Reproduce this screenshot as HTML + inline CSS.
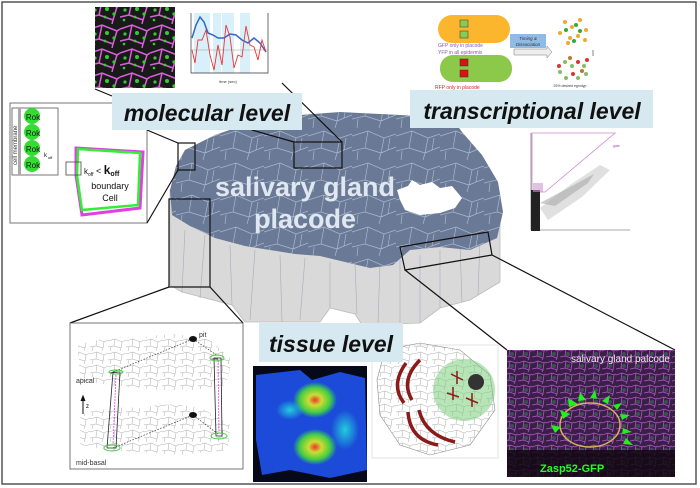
<!DOCTYPE html>
<html><head><meta charset="utf-8"><style>
html,body{margin:0;padding:0;background:#fff}
svg{display:block}
text{font-family:"Liberation Sans",sans-serif}
</style></head><body>
<svg width="700" height="488" viewBox="0 0 700 488" xmlns="http://www.w3.org/2000/svg">
<defs>
<pattern id="mesh" width="44" height="32" patternUnits="userSpaceOnUse">
<path d="M0 8 L16 3 L32 10 L44 6 M16 3 L13 20 L0 23 M13 20 L29 25 L32 10 M29 25 L27 32 M6 23 L5 32 M36 22 L44 19 M29 25 L36 22 L44 19 M36 22 L38 10" stroke="#a9b8cc" stroke-width="0.7" fill="none"/>
</pattern>
<pattern id="gmesh" width="18" height="13" patternUnits="userSpaceOnUse">
<path d="M0 3 L7 1 L14 4 L18 2 M7 1 L6 8 L0 9 M6 8 L13 10 L14 4 M13 10 L12 13 M3 9 L2 13" stroke="#aaa" stroke-width="0.5" fill="none"/>
</pattern>
<pattern id="micro" width="30" height="24" patternUnits="userSpaceOnUse">
<rect width="30" height="24" fill="#1a1a1a"/>
<path d="M0 5 L12 1 L27 7 L30 5 M12 1 L9 15 L0 17 M9 15 L23 20 L27 7 M23 20 L22 24" stroke="#d860d8" stroke-width="1.5" fill="none"/>
<circle cx="5" cy="10" r="1.6" fill="#3c3"/><circle cx="17" cy="9" r="2" fill="#3c3"/><circle cx="15" cy="17" r="1.4" fill="#3c3"/><circle cx="24" cy="14" r="1.6" fill="#3c3"/><circle cx="4" cy="20" r="1.3" fill="#3c3"/>
</pattern>
<pattern id="zmesh" width="14" height="12" patternUnits="userSpaceOnUse">
<rect width="14" height="12" fill="#3a2046"/>
<path d="M0 3 L6 1 L12 3 L14 2 M6 1 L5 8 L0 9 M5 8 L11 10 L12 3 M11 10 L10 12" stroke="#b055c8" stroke-width="0.8" fill="none"/>
<circle cx="8" cy="6" r="2" fill="#3b5050"/>
</pattern>
<radialGradient id="hot" cx="0.5" cy="0.5" r="0.5"><stop offset="0" stop-color="#e33"/><stop offset="0.3" stop-color="#cd3"/><stop offset="0.7" stop-color="#4c4"/><stop offset="1" stop-color="#3c6" stop-opacity="0"/></radialGradient>
<radialGradient id="cyan" cx="0.5" cy="0.5" r="0.5"><stop offset="0" stop-color="#2cd" /><stop offset="1" stop-color="#2cd" stop-opacity="0"/></radialGradient>
</defs>
<rect x="2" y="2" width="694" height="482" fill="#fff" stroke="#555" stroke-width="1.5"/>

<!-- placode side -->
<path d="M170 190 L500 210 L500 282 L470 300 L440 308 L420 323 L362 325 L355 314 L330 308 L320 322 L245 322 L232 305 L182 292 L170 285 Z" fill="#d9d9d9" stroke="#bbb" stroke-width="0.8"/>
<g stroke="#aab" stroke-width="0.6">
<path d="M185 230 L182 292 M205 235 L200 298 M230 245 L232 305 M255 250 L250 320 M280 255 L282 322 M305 258 L300 320 M330 262 L330 308 M355 265 L357 314 M380 262 L378 324 M400 258 L400 324 M420 255 L420 323 M440 250 L440 308 M460 245 L462 302 M480 240 L478 295"/>
</g>
<!-- placode top -->
<path id="top" d="M176 166 L185 150 L215 135 L250 123 L300 115 L340 112 L400 115 L452 118 L462 132 L482 155 L498 182 L503 212 L497 238 L470 250 L440 247 L410 250 L393 265 L370 268 L345 262 L320 256 L295 254 L270 250 L245 246 L215 238 L190 226 L172 215 L170 190 Z" fill="#6a7995"/>
<path d="M176 166 L185 150 L215 135 L250 123 L300 115 L340 112 L400 115 L452 118 L462 132 L482 155 L498 182 L503 212 L497 238 L470 250 L440 247 L410 250 L393 265 L370 268 L345 262 L320 256 L295 254 L270 250 L245 246 L215 238 L190 226 L172 215 L170 190 Z" fill="url(#mesh)"/>
<path d="M397 190 L408 186 L412 180 L420 185 L432 182 L440 188 L452 186 L462 198 L455 208 L440 213 L420 215 L405 210 L400 200 Z" fill="#fff"/>
<text x="305" y="196" font-size="27" font-weight="bold" fill="#dfe8f0" text-anchor="middle">salivary gland</text>
<text x="305" y="228" font-size="27" font-weight="bold" fill="#dfe8f0" text-anchor="middle">placode</text>

<!-- Rok box -->
<rect x="10" y="103" width="137" height="120" fill="#fff" stroke="#555" stroke-width="0.8"/>
<rect x="12" y="108" width="46" height="67" fill="#fff" stroke="#555" stroke-width="0.8"/>
<rect x="18" y="108" width="3" height="67" fill="#aaa"/>
<text transform="translate(17,165) rotate(-90)" font-size="6" fill="#333">cell membrane</text>
<g font-size="8" text-anchor="middle" fill="#111">
<circle cx="32" cy="116" r="8" fill="#3d3"/><text x="33" y="120">Rok</text>
<circle cx="32" cy="132" r="8" fill="#3d3"/><text x="33" y="136">Rok</text>
<circle cx="32" cy="148" r="8" fill="#3d3"/><text x="33" y="152">Rok</text>
<circle cx="32" cy="164" r="8" fill="#3d3"/><text x="33" y="168">Rok</text>
</g>
<text x="44" y="157" font-size="6" fill="#111">k</text><text x="48" y="159" font-size="4">off</text>
<path d="M76 148 L143 152 L140 208 L82 215 L76 175 Z" fill="#fff" stroke="#e040e0" stroke-width="3"/>
<path d="M78 149 L140 153 L138 205 L82 210 L77 175 Z" fill="none" stroke="#3e3" stroke-width="2.5"/>
<rect x="66" y="162" width="15" height="13" fill="none" stroke="#444" stroke-width="0.8"/>
<text x="84" y="174" font-size="8" fill="#111">k<tspan font-size="5" dy="2">off</tspan><tspan dy="-2" font-size="9"> &lt; </tspan><tspan font-weight="bold" font-size="12">k</tspan><tspan font-weight="bold" font-size="7" dy="2">off</tspan></text>
<text x="110" y="189" font-size="9" fill="#111" text-anchor="middle">boundary</text>
<text x="110" y="201" font-size="9" fill="#111" text-anchor="middle">Cell</text>

<!-- micrograph -->
<rect x="95" y="7" width="80" height="81" fill="url(#micro)"/>
<!-- chart -->
<rect x="194" y="13" width="16" height="60" fill="#d8f0fa"/><rect x="213" y="13" width="8" height="60" fill="#d8f0fa"/><rect x="222" y="13" width="12" height="60" fill="#d8f0fa"/><rect x="240" y="13" width="10" height="60" fill="#d8f0fa"/>
<path d="M191 13 V73 H268 V13" fill="none" stroke="#333" stroke-width="0.7"/>
<line x1="191" y1="50" x2="268" y2="50" stroke="#999" stroke-width="0.5"/>
<polyline points="192,38 196,25 200,17 204,22 208,33 213,35 218,38 224,38 230,34 236,35 242,40 248,43 254,38 260,43 266,52" fill="none" stroke="#36c" stroke-width="1.5"/>
<polyline points="192,50 195,63 198,40 202,40 206,30 210,55 214,70 218,45 222,65 226,25 230,37 234,68 238,55 242,57 246,26 250,45 254,47 258,60 262,40 266,52" fill="none" stroke="#e33" stroke-width="0.9"/>
<text x="228" y="83" font-size="4" fill="#333" text-anchor="middle">time (sec)</text>

<!-- zoom boxes and connectors -->
<g fill="none" stroke="#111" stroke-width="1.2">
<rect x="178" y="143" width="17" height="27"/>
<rect x="294" y="142" width="48" height="26"/>
<rect x="169" y="199" width="41" height="88"/>
<path d="M400 247 L488 232 L492 255 L405 270 Z"/>
<path d="M282 83 L342 142 M252 130 L294 142 M147 130 L178 143 M147 223 L178 170 M95 89 L112 96"/>
<path d="M169 287 L70 323 M210 287 L243 323 M405 270 L507 350 M492 255 L675 350"/>
</g>

<rect x="112" y="93" width="190" height="37" fill="#d6e9f1"/>
<text x="207" y="121" font-size="23" font-weight="bold" font-style="italic" fill="#111" text-anchor="middle">molecular level</text>

<!-- transcriptional graphic -->
<rect x="438" y="15" width="72" height="28" rx="14" fill="#fbb62e"/>
<rect x="460" y="20" width="8" height="7" fill="#8c5" stroke="#333" stroke-width="0.5"/><rect x="460" y="31" width="8" height="7" fill="#8c5" stroke="#333" stroke-width="0.5"/>
<text x="438" y="47" font-size="5" fill="#8a5ab8">GFP only in placode</text>
<text x="438" y="54" font-size="5" fill="#8a5ab8">YFP in all epidermis</text>
<rect x="440" y="55" width="72" height="27" rx="13" fill="#8cc84a"/>
<rect x="460" y="59" width="8" height="7" fill="#d11" stroke="#333" stroke-width="0.5"/><rect x="460" y="70" width="8" height="7" fill="#d11" stroke="#333" stroke-width="0.5"/>
<text x="435" y="89" font-size="5" fill="#d22">RFP only in placode</text>
<rect x="510" y="34" width="36" height="14" fill="#8fbce6"/>
<text x="528" y="40" font-size="4.5" font-style="italic" fill="#333" text-anchor="middle">Timing &amp;</text>
<text x="528" y="46" font-size="4.5" font-style="italic" fill="#333" text-anchor="middle">Dissociation</text>
<path d="M514 49 H547 V46 L552 52 L547 58 V55 H514 Z" fill="#eee" stroke="#777" stroke-width="0.5"/>
<g fill="#f0a830"><circle cx="565" cy="22" r="2"/><circle cx="572" cy="27" r="2"/><circle cx="580" cy="20" r="2"/><circle cx="586" cy="30" r="2"/><circle cx="560" cy="33" r="2"/><circle cx="570" cy="38" r="2"/><circle cx="585" cy="40" r="2"/><circle cx="578" cy="36" r="2"/><circle cx="568" cy="43" r="2"/></g>
<g fill="#3a3"><circle cx="576" cy="25" r="2"/><circle cx="566" cy="30" r="2"/><circle cx="580" cy="31" r="2"/><circle cx="574" cy="41" r="2"/></g>
<g fill="#8b6"><circle cx="565" cy="62" r="2"/><circle cx="572" cy="66" r="2"/><circle cx="584" cy="66" r="2"/><circle cx="560" cy="72" r="2"/><circle cx="578" cy="78" r="2"/><circle cx="586" cy="74" r="2"/><circle cx="566" cy="78" r="2"/></g>
<g fill="#d33"><circle cx="578" cy="62" r="2"/><circle cx="559" cy="66" r="2"/><circle cx="573" cy="74" r="2"/><circle cx="587" cy="60" r="2"/></g>
<g fill="#b73"><circle cx="570" cy="58" r="2"/><circle cx="582" cy="71" r="2"/></g>
<line x1="593" y1="50" x2="593" y2="56" stroke="#333" stroke-width="0.6"/>
<text x="570" y="87" font-size="3.5" fill="#333" text-anchor="middle">25% desired egnotyp</text>

<rect x="410" y="90" width="243" height="38" fill="#d6e9f1"/>
<text x="532" y="119" font-size="23" font-weight="bold" font-style="italic" fill="#111" text-anchor="middle">transcriptional level</text>

<!-- scatter -->
<path d="M531 133 V230 H630" fill="none" stroke="#555" stroke-width="0.6"/>
<path d="M532 133 L615 133 L545 192 L532 192 Z" fill="none" stroke="#c8c" stroke-width="0.8"/>
<text x="613" y="147" font-size="3.5" fill="#a4a">gate</text>
<path d="M540 208 L570 185 L600 165 L610 170 L582 197 L548 220 Z" fill="#ccc" opacity="0.6"/>
<path d="M540 203 L572 186 L594 174 L588 183 L555 206 Z" fill="#aaa" opacity="0.6"/>
<rect x="531" y="190" width="9" height="41" fill="#222"/>
<rect x="533" y="183" width="10" height="9" fill="#c9c" opacity="0.6"/>

<!-- tissue panel -->
<rect x="70" y="323" width="173" height="146" fill="#fff" stroke="#555" stroke-width="0.8"/>
<path d="M78 345 Q110 335 140 338 Q175 330 210 340 L232 360 L226 385 L180 392 L110 385 L80 380 Z" fill="url(#gmesh)"/>
<path d="M80 415 Q110 405 140 408 Q175 400 205 410 L230 425 L228 450 L180 455 L110 450 L80 445 Z" fill="url(#gmesh)"/>
<path d="M113 372 L193 339 M113 448 L193 415 M193 339 L218 356 M193 415 L218 434" stroke="#333" stroke-width="0.7" stroke-dasharray="1.5,1.5" fill="none"/>
<ellipse cx="193" cy="339" rx="4" ry="3" fill="#111"/><ellipse cx="193" cy="415" rx="4" ry="3" fill="#111"/>
<text x="199" y="337" font-size="7" fill="#333">pit</text>
<g fill="none" stroke="#222" stroke-width="0.8">
<path d="M113 372 L120 372 L116 448 L107 448 Z M110 373 L118 372"/><path d="M214 358 L221 358 L222 436 L216 436 Z M212 359 L218 359"/>
</g>
<line x1="116" y1="375" x2="113" y2="445" stroke="#e4e" stroke-width="0.8" stroke-dasharray="2,1"/>
<line x1="218" y1="360" x2="219" y2="432" stroke="#e4e" stroke-width="0.8" stroke-dasharray="2,1"/>
<g fill="none" stroke="#3c3" stroke-width="0.9"><ellipse cx="116" cy="372" rx="7" ry="2"/><ellipse cx="112" cy="448" rx="8" ry="3"/><ellipse cx="217" cy="358" rx="7" ry="3"/><ellipse cx="219" cy="436" rx="8" ry="3"/></g>
<text x="76" y="383" font-size="7" fill="#333">apical</text>
<text x="76" y="465" font-size="7" fill="#333">mid-basal</text>
<path d="M83 414 V398 M81 401 L83 396 L85 401" stroke="#111" stroke-width="1" fill="#111"/>
<text x="86" y="408" font-size="6">z</text>

<!-- heatmap -->
<rect x="253" y="366" width="114" height="116" fill="#05091a"/>
<path d="M256 375 L300 370 L312 380 L340 372 L365 378 L367 470 L330 478 L290 470 L262 475 L256 440 Z" fill="#1b4bd8"/>
<ellipse cx="315" cy="400" rx="22" ry="18" fill="url(#hot)"/>
<ellipse cx="315" cy="447" rx="22" ry="18" fill="url(#hot)"/>
<ellipse cx="290" cy="410" rx="14" ry="10" fill="url(#cyan)"/>
<ellipse cx="345" cy="430" rx="14" ry="20" fill="url(#cyan)"/>

<!-- cell diagram -->
<rect x="372" y="345" width="126" height="113" fill="#fff" stroke="#ddd" stroke-width="0.8"/>
<path d="M385 350 L420 343 L460 350 L490 375 L495 410 L470 445 L430 455 L400 445 L380 415 L377 380 Z" fill="url(#gmesh)" stroke="#888" stroke-width="0.6"/>
<circle cx="464" cy="390" r="31" fill="#7dd07d" opacity="0.55"/>
<circle cx="476" cy="382" r="8" fill="#333"/>
<g stroke="#8b1a1a" stroke-width="1.5"><path d="M451 374 L463 380 M457 371 L457 384 M447 393 L459 397 M453 387 L453 400 M466 398 L478 403 M472 393 L472 407"/></g>
<g fill="none" stroke="#8b1a1a" stroke-width="3.5">
<path d="M420 360 Q400 380 412 400"/><path d="M406 363 Q390 385 404 403"/><path d="M408 412 Q410 440 438 445"/><path d="M419 410 Q425 435 455 442"/>
</g>

<rect x="259" y="323" width="144" height="39" fill="#d6e9f1"/>
<text x="331" y="352" font-size="23" font-weight="bold" font-style="italic" fill="#111" text-anchor="middle">tissue level</text>

<!-- zasp photo -->
<rect x="507" y="350" width="168" height="127" fill="url(#zmesh)"/>
<rect x="507" y="450" width="168" height="27" fill="#120812" opacity="0.85"/>
<ellipse cx="590" cy="425" rx="30" ry="22" fill="none" stroke="#d9b25a" stroke-width="1.5"/>
<text x="670" y="362" font-size="10" fill="#f2e8f4" text-anchor="end">salivary gland palcode</text>
<text x="540" y="472" font-size="11" font-weight="bold" fill="#2f2">Zasp52-GFP</text>
<g fill="#2e2"><path d="M560 410 l10 4 l-7 5z"/><path d="M568 398 l10 6 l-9 3z"/><path d="M580 392 l6 8 l-8 1z"/><path d="M595 390 l2 9 l-7 -1z"/><path d="M610 395 l-2 9 l-6 -3z"/><path d="M622 403 l-5 7 l-4 -5z"/><path d="M630 415 l-8 5 l-2 -6z"/><path d="M632 432 l-10 2 l1 -6z"/><path d="M633 445 l-10 -1 l3 -6z"/><path d="M551 425 l10 2 l-6 6z"/></g>
</svg>
</body></html>
